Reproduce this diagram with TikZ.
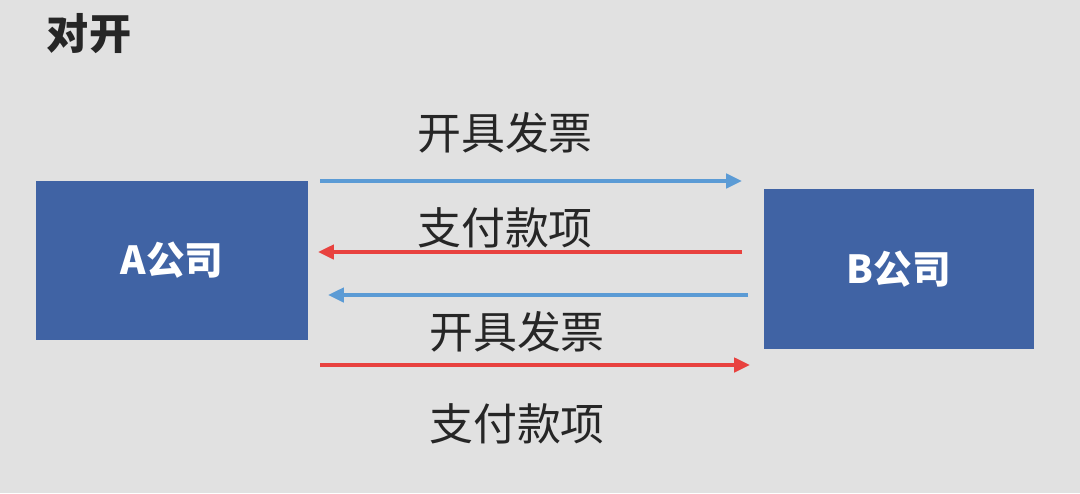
\documentclass[tikz,border=0pt]{standalone}
\usepackage{fontspec}
\usepackage{xcolor}
\usetikzlibrary{arrows.meta}
\setmainfont{Noto Sans CJK SC}
\definecolor{bg}{HTML}{E1E1E1}
\definecolor{boxblue}{HTML}{4063A4}
\definecolor{lineblue}{HTML}{5B9BD5}
\definecolor{linered}{HTML}{E8423F}
\tikzset{
  company/.style={fill=boxblue,draw=none,text=white,font=\fontsize{22}{24}\selectfont\bfseries,minimum width=5.44cm,minimum height=3.18cm,inner sep=0pt},
  lbl/.style={font=\fontsize{25}{27}\selectfont,text=black!85},
  flow/.style={line width=2.2pt,-{Triangle[length=9pt,width=8pt]}}
}
\begin{document}
\begin{tikzpicture}
\fill[bg] (0,0) rectangle (21.6,9.86);
\useasboundingbox (0,0) rectangle (21.6,9.86);
\node[font=\fontsize{24}{26}\selectfont\bfseries,text=black!85] (title) at (1.78,9.18) {对开};
\node[company] (A) at (3.44,4.65) {A公司};
\node[company,minimum width=5.4cm,minimum height=3.2cm] (B) at (17.98,4.48) {B公司};
\coordinate (s1) at (6.4,6.24);  \coordinate (e1) at (14.84,6.24);
\coordinate (s2) at (14.84,4.82); \coordinate (e2) at (6.36,4.82);
\coordinate (s3) at (14.96,3.96); \coordinate (e3) at (6.56,3.96);
\coordinate (s4) at (6.4,2.56);  \coordinate (e4) at (15.0,2.56);
\draw[flow,lineblue] (s1) -- (e1);
\draw[flow,linered] (s2) -- (e2);
\draw[flow,lineblue] (s3) -- (e3);
\draw[flow,linered] (s4) -- (e4);
\node[lbl] (inv1) at (10.1,7.2) {开具发票};
\node[lbl] (pay1) at (10.1,5.3) {支付款项};
\node[lbl] (inv2) at (10.34,3.22) {开具发票};
\node[lbl] (pay2) at (10.34,1.38) {支付款项};
\end{tikzpicture}
\end{document}
